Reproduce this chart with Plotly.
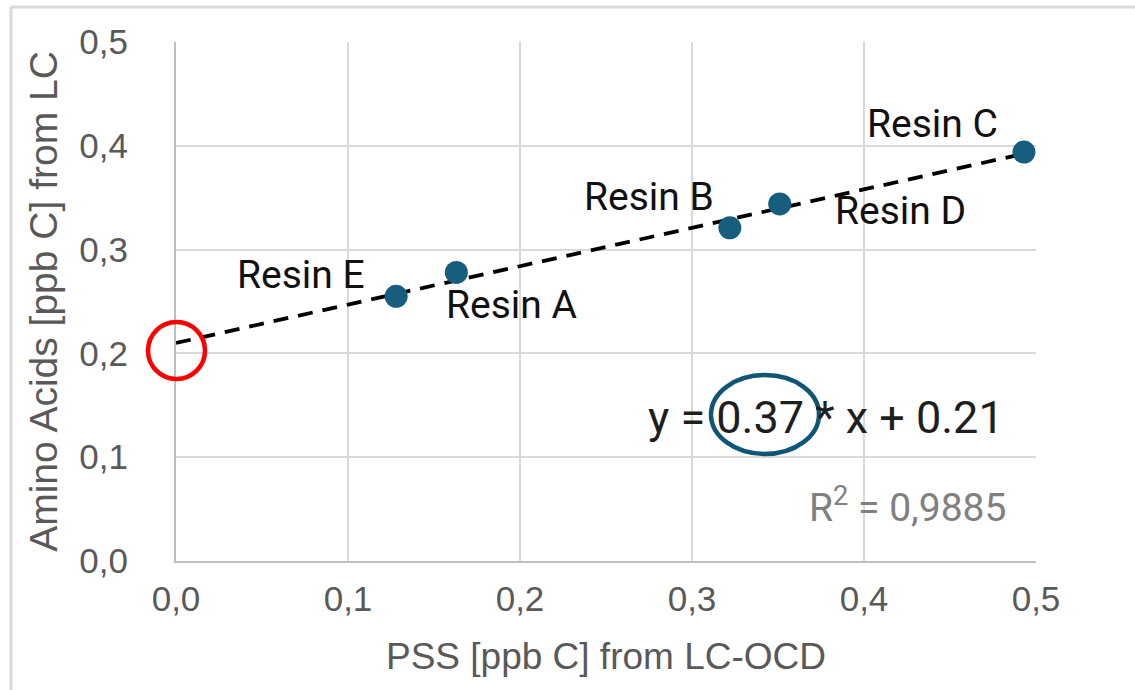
import plotly.graph_objects as go

# Measured samples
resins = ["Resin A", "Resin B", "Resin C", "Resin D", "Resin E"]
pss = [0.163, 0.322, 0.493, 0.351, 0.128]          # PSS [ppb C] from LC-OCD
amino = [0.278, 0.321, 0.394, 0.344, 0.255]        # Amino Acids [ppb C] from LC

# Linear fit shown on the chart
slope = 0.37
intercept = 0.21
r_squared = "0,9885"

x_ticks = [0.0, 0.1, 0.2, 0.3, 0.4, 0.5]
x_tick_text = ["0,0", "0,1", "0,2", "0,3", "0,4", "0,5"]
y_ticks = [0.0, 0.1, 0.2, 0.3, 0.4, 0.5]
y_tick_text = ["0,0", "0,1", "0,2", "0,3", "0,4", "0,5"]

# Label offsets (pixels) relative to each point
label_shift = {
    "Resin A": (55, -33),
    "Resin B": (-81, 31),
    "Resin C": (-91, 28),
    "Resin D": (121, -7),
    "Resin E": (-95, 21),
}

W, H = 1135, 690
L, R, T, B = 176, 1036, 42, 561
XR = (0.0, 0.5)
YR = (0.0, 0.5)

def px_to_x(px):
    return XR[0] + (px - L) / (R - L) * (XR[1] - XR[0])

def py_to_y(py):
    return YR[0] + (B - py) / (B - T) * (YR[1] - YR[0])

def paper_x(px):
    return (px - L) / (R - L)

def paper_y(py):
    return (B - py) / (B - T)

GRID = "#d9d9d9"
TICK = "#595959"
POINT = "#175e7e"

fig = go.Figure()

x_end = max(pss)
fig.add_trace(go.Scatter(
    x=[0.0, x_end],
    y=[intercept, slope * x_end + intercept],
    mode="lines",
    line=dict(color="black", width=3.8, dash="15px,10px"),
    hoverinfo="skip",
    showlegend=False,
))

fig.add_trace(go.Scatter(
    x=pss, y=amino, mode="markers",
    marker=dict(color=POINT, size=23),
    text=resins,
    showlegend=False,
))

for name, xv, yv in zip(resins, pss, amino):
    dx, dy = label_shift[name]
    fig.add_annotation(
        x=xv, y=yv, xref="x", yref="y", text=name, showarrow=False,
        xshift=dx, yshift=dy,
        font=dict(family="Roboto, Arial, sans-serif", size=39, color="#111111"),
    )

# Fit equation and R²
fig.add_annotation(
    x=px_to_x(826), y=py_to_y(417), xref="x", yref="y",
    text=f"y = {slope:.2f} * x + {intercept:.2f}", showarrow=False,
    font=dict(family="Roboto, Arial, sans-serif", size=45, color="#1e1e1e"),
)
fig.add_annotation(
    x=px_to_x(907), y=py_to_y(505), xref="x", yref="y",
    text=f"R<sup>2</sup> = {r_squared}", showarrow=False,
    font=dict(family="Roboto, Arial, sans-serif", size=39, color="#808080"),
)

# Highlight: ellipse around the slope, circle at the intercept
fig.add_shape(
    type="circle", xref="paper", yref="paper",
    x0=paper_x(711), x1=paper_x(819), y0=paper_y(454), y1=paper_y(375),
    line=dict(color="#0f5676", width=4.5),
)
fig.add_shape(
    type="circle", xref="paper", yref="paper",
    x0=paper_x(148), x1=paper_x(205), y0=paper_y(379), y1=paper_y(322),
    line=dict(color="#ff0000", width=4.5),
)

# Outer chart border (top and left)
fig.add_shape(type="line", xref="paper", yref="paper",
              x0=paper_x(11), x1=paper_x(W + 5), y0=paper_y(7), y1=paper_y(7),
              line=dict(color=GRID, width=3))
fig.add_shape(type="line", xref="paper", yref="paper",
              x0=paper_x(11), x1=paper_x(11), y0=paper_y(7), y1=paper_y(H + 5),
              line=dict(color=GRID, width=3))

fig.update_xaxes(
    range=list(XR), tickvals=x_ticks, ticktext=x_tick_text,
    showgrid=True, gridcolor=GRID, gridwidth=2,
    showline=True, linecolor="#bfbfbf", linewidth=2, mirror=False,
    zeroline=False, ticks="", ticklabelstandoff=6,
    tickfont=dict(family="Liberation Sans, Arial, sans-serif", size=35, color=TICK),
    title=dict(text="PSS [ppb C] from LC-OCD", standoff=26,
               font=dict(family="Liberation Sans, Arial, sans-serif", size=37, color=TICK)),
)
fig.update_yaxes(
    range=list(YR), tickvals=y_ticks, ticktext=y_tick_text,
    showgrid=True, gridcolor=GRID, gridwidth=2,
    showline=True, linecolor="#bfbfbf", linewidth=2,
    zeroline=False, ticks="", ticklabelstandoff=39,
    tickfont=dict(family="Liberation Sans, Arial, sans-serif", size=35, color=TICK),
    title=dict(text="Amino Acids [ppb C] from LC", standoff=10,
               font=dict(family="Liberation Sans, Arial, sans-serif", size=39, color=TICK)),
)

fig.update_layout(
    width=W, height=H,
    margin=dict(l=L, r=W - R, t=T, b=H - B),
    paper_bgcolor="white", plot_bgcolor="white",
    showlegend=False,
)

fig.write_html("out.html")
